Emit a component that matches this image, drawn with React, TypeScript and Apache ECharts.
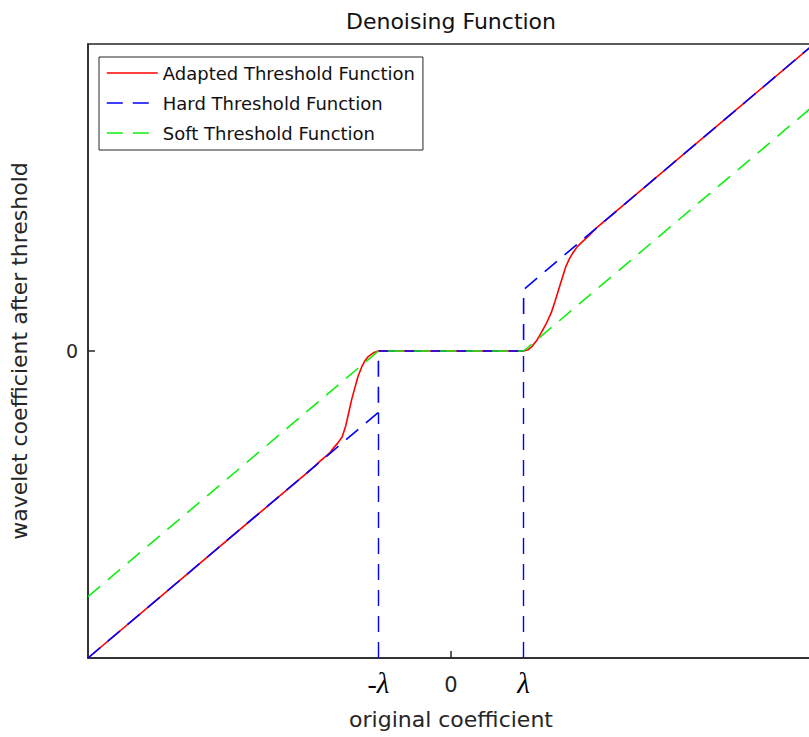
import React, { useEffect, useRef } from 'react';
import * as echarts from 'echarts';

const titleText = 'Denoising Function';
const xAxisName = 'original coefficient';
const yAxisName = 'wavelet coefficient after threshold';
const seriesNames = ['Adapted Threshold Function', 'Hard Threshold Function', 'Soft Threshold Function'];

const xRange = [-5, 5];
const yRange = [-5, 5];
const xTickValues = [-1, 0, 1];
const xTickLabels = ['-λ', '0', 'λ'];
const yTickValues = [0];
const yTickLabels = ['0'];

const adaptedX = [
  -5, -2, -1.87, -1.8, -1.73, -1.67, -1.62, -1.56, -1.5, -1.45, -1.41, -1.37, -1.32, -1.28, -1.23, -1.18, -1.14, -1.07, -1,
  0,
  1, 1.06, 1.12, 1.18, 1.24, 1.31, 1.38, 1.43, 1.48, 1.53, 1.58, 1.63, 1.68, 1.74, 1.8, 1.9, 2, 5,
];
const adaptedY = [
  -5, -2, -1.87, -1.79, -1.72, -1.66, -1.58, -1.5, -1.4, -1.22, -1.01, -0.8, -0.58, -0.41, -0.26, -0.15, -0.09, -0.03, 0,
  0,
  0, 0.02, 0.08, 0.17, 0.29, 0.44, 0.62, 0.8, 0.99, 1.18, 1.37, 1.5, 1.6, 1.7, 1.77, 1.88, 2, 5,
];

const hardX = [-5, -1, -1, 1, 1, 5];
const hardY = [-5, -1, 0, 0, 1, 5];

const softX = [-5, -1, 1, 5];
const softY = [-4, 0, 0, 4];

// vertical dashed guides of the hard threshold at -λ and λ: [x, yFrom, yTo]
const hardGuides = [
  [-1, -5, -1],
  [1, -5, 0],
];

const RED = '#ff0000';
const BLUE = '#0000ff';
const GREEN = '#11ee11';
const AXIS = '#262626';
const DASH = [16, 10];
const SANS = 'DejaVu Sans';
const SERIF = 'Liberation Serif';
const colors = [RED, BLUE, GREEN];
const dashTypes: any[] = ['solid', DASH, DASH];

const zip = (xs: number[], ys: number[]) => xs.map((x, i) => [x, ys[i]]);

export default function App() {
  const ref = useRef<HTMLDivElement>(null);

  useEffect(() => {
    document.body.style.margin = '0';
    if (!ref.current) return;
    const chart = echarts.init(ref.current, undefined, { renderer: 'svg' });

    const option: any = {
      animation: false,
      backgroundColor: '#ffffff',
      title: {
        text: titleText,
        left: 451,
        top: 10,
        padding: 0,
        textAlign: 'center',
        textStyle: { fontFamily: SANS, fontSize: 22, fontWeight: 'normal', color: '#111111' },
      },
      legend: {
        orient: 'vertical',
        left: 99,
        top: 57,
        padding: [7, 8, 8, 7],
        itemWidth: 51,
        itemHeight: 18,
        itemGap: 12,
        backgroundColor: '#ffffff',
        borderColor: AXIS,
        borderWidth: 1,
        borderRadius: 0,
        selectedMode: false,
        textStyle: { fontFamily: SANS, fontSize: 18, color: '#111111', lineHeight: 18 },
        itemStyle: { opacity: 0 },
        data: seriesNames.map((n, i) => ({
          name: n,
          itemStyle: { opacity: 0 },
          lineStyle: { color: colors[i], width: 1.6, type: dashTypes[i] },
        })),
      },
      grid: {
        left: 85,
        top: 44,
        right: 16,
        bottom: 79,
        show: true,
        borderColor: AXIS,
        borderWidth: 1.5,
        backgroundColor: 'transparent',
      },
      xAxis: {
        type: 'value',
        min: xRange[0],
        max: xRange[1],
        name: xAxisName,
        nameLocation: 'middle',
        nameGap: 50,
        nameTextStyle: { fontFamily: SANS, fontSize: 22, color: AXIS },
        axisLine: { show: true, onZero: false, lineStyle: { color: AXIS, width: 1.5 } },
        axisTick: { show: true, inside: true, length: 7, customValues: [0], lineStyle: { color: AXIS, width: 1.5 } },
        splitLine: { show: false },
        axisLabel: {
          show: true,
          margin: 19,
          customValues: xTickValues,
          fontFamily: SANS,
          fontSize: 20,
          color: AXIS,
          formatter: (v: number) => {
            const idx = xTickValues.findIndex((t) => Math.abs(t - v) < 1e-9);
            const s = idx >= 0 ? xTickLabels[idx] : '';
            if (s.indexOf('λ') >= 0) {
              const pre = s.replace('λ', '');
              return (pre ? '{m|' + pre + '}' : '') + '{l|λ}';
            }
            return '{z|' + s + '}';
          },
          rich: {
            l: { fontFamily: SERIF, fontStyle: 'italic', fontSize: 29, color: '#000000', lineHeight: 12 },
            m: { fontFamily: SERIF, fontSize: 28, color: '#000000', lineHeight: 12 },
            z: { fontFamily: SANS, fontSize: 21, color: AXIS, lineHeight: 16 },
          },
        },
      },
      yAxis: {
        type: 'value',
        min: yRange[0],
        max: yRange[1],
        name: yAxisName,
        nameLocation: 'middle',
        nameRotate: 90,
        nameGap: 58,
        nameTextStyle: { fontFamily: SANS, fontSize: 22, color: AXIS },
        axisLine: { show: true, onZero: false, lineStyle: { color: AXIS, width: 1.5 } },
        axisTick: { show: true, inside: true, length: 7, customValues: yTickValues, lineStyle: { color: AXIS, width: 1.5 } },
        splitLine: { show: false },
        axisLabel: {
          show: true,
          margin: 10,
          customValues: yTickValues,
          formatter: (v: number) => {
            const idx = yTickValues.findIndex((t) => Math.abs(t - v) < 1e-9);
            return idx >= 0 ? yTickLabels[idx] : '';
          },
          fontFamily: SANS,
          fontSize: 19,
          color: AXIS,
        },
      },
      series: [
        {
          name: seriesNames[0],
          type: 'line',
          data: zip(adaptedX, adaptedY),
          showSymbol: false,
          symbol: 'none',
          smooth: false,
          lineStyle: { color: RED, width: 1.6, type: 'solid' },
          itemStyle: { color: RED },
          emphasis: { disabled: true },
          z: 2,
        },
        {
          name: seriesNames[1],
          type: 'line',
          data: zip(hardX, hardY),
          showSymbol: false,
          symbol: 'none',
          lineStyle: { color: BLUE, width: 1.6, type: DASH },
          itemStyle: { color: BLUE },
          emphasis: { disabled: true },
          z: 3,
          markLine: {
            silent: true,
            symbol: ['none', 'none'],
            label: { show: false },
            animation: false,
            lineStyle: { color: BLUE, width: 1.4, type: DASH },
            emphasis: { disabled: true },
            data: hardGuides.map((g) => [{ coord: [g[0], g[1]] }, { coord: [g[0], g[2]] }]),
          },
        },
        {
          name: seriesNames[2],
          type: 'line',
          data: zip(softX, softY),
          showSymbol: false,
          symbol: 'none',
          lineStyle: { color: GREEN, width: 1.6, type: DASH },
          itemStyle: { color: GREEN },
          emphasis: { disabled: true },
          z: 4,
        },
      ],
    };

    chart.setOption(option);
    return () => {
      chart.dispose();
    };
  }, []);

  return (
    <div style={{ position: 'absolute', left: 0, top: 0, width: 809, height: 737, overflow: 'hidden', background: '#fff' }}>
      <div ref={ref} style={{ width: 830, height: 737 }} />
    </div>
  );
}
